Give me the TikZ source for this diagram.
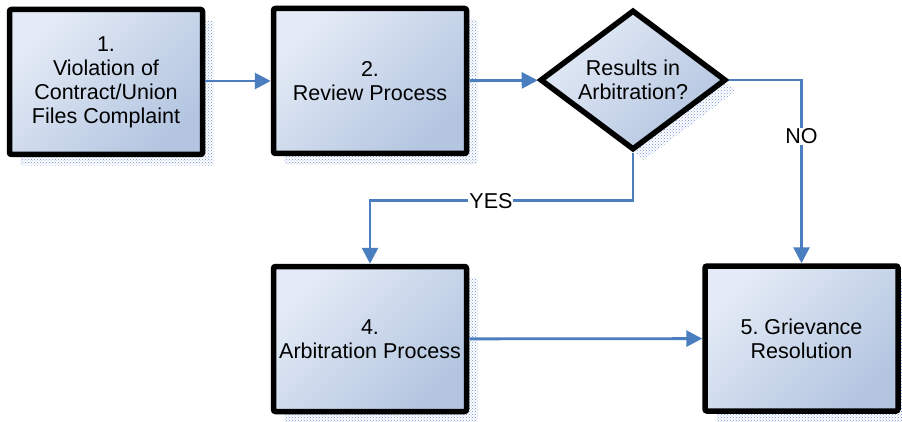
\documentclass[tikz,border=0pt]{standalone}
\usepackage{fontspec}
\setmainfont{Liberation Sans}
\usetikzlibrary{shapes.geometric, arrows.meta, shadows, patterns}

\definecolor{boxlight}{HTML}{E4EBF6}
\definecolor{boxdark}{HTML}{B3C5E0}
\definecolor{flowblue}{HTML}{4A7EBF}
\definecolor{shadowblue}{HTML}{6F90CF}

\frenchspacing
\begin{document}
\begin{tikzpicture}[x=1pt, y=-1pt,
    stepbox/.style={draw=black, line width=5.5pt, rounded corners=2pt,
      top color=boxlight, bottom color=boxdark, shading angle=45,
      minimum width=193pt, minimum height=145pt, inner sep=0pt,
      align=center, font=\fontsize{21.5}{24}\selectfont,
      drop shadow={shadow xshift=11pt, shadow yshift=-11pt, fill=none,
        opacity=1, pattern=crosshatch dots, pattern color=shadowblue}},
    choice/.style={stepbox, diamond, rounded corners=0pt, aspect=1.33,
      minimum width=186pt, minimum height=140pt},
    flow/.style={draw=flowblue, line width=2.8pt,
      -{Triangle[length=16pt, width=16pt]}},
    answer/.style={fill=white, inner sep=1pt, font=\fontsize{21.5}{24}\selectfont}]
      \useasboundingbox (0, 0) rectangle (902, 422);

      % Boxes
      \node[stepbox] (violation) at (106, 82) {1.\\Violation of\\Contract/Union\\Files Complaint};
      \node[stepbox] (review) at (370, 81) {2.\\Review Process};
      \node[choice] (decision) at (633, 80) {Results in\\Arbitration?};
      \node[stepbox] (arbitration) at (370, 339) {4.\\Arbitration Process};
      \node[stepbox] (resolution) at (801.5, 338.5) {5. Grievance\\Resolution};

      % Arrows
      \draw[flow] (violation.east |- review) -- (review);
      \draw[flow] (review) -- (decision);
      \draw[flow] (decision.south) -- ++(0, 48) -| (arbitration.north) node[answer, pos=0.27]{YES};
      \draw[flow] (decision.east) -| (resolution.north) node[answer, pos=0.654]{NO};
      \draw[flow] (arbitration) -- (resolution);
    \end{tikzpicture}
\end{document}
